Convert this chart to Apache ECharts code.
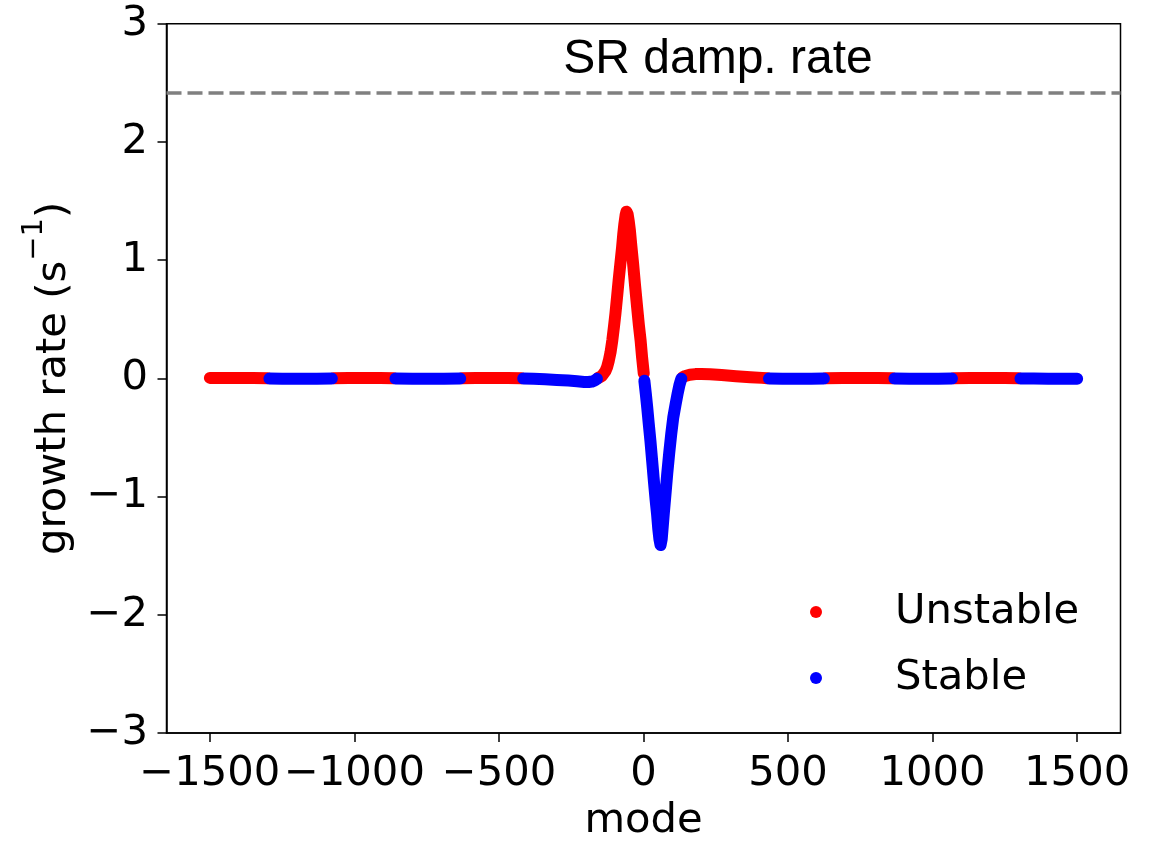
<!DOCTYPE html>
<html>
<head>
<meta charset="utf-8">
<script src="https://cdn.jsdelivr.net/npm/echarts@6/dist/echarts.min.js"></script>
<style>
  html, body { margin: 0; padding: 0; background: #fff; }
  #chart { width: 1157px; height: 841px; }
</style>
</head>
<body>
<div id="chart"></div>
<script>
// ---- data ----
const modes = [
  -1500, -1450, -1400, -1350, -1300, -1294, -1250, -1190, -1130, -1078,
  -1072, -1020, -960, -910, -864, -858, -800, -745, -690, -634,
  -628, -580, -520, -470, -422, -416, -380, -340, -300, -260,
  -230, -205, -190, -178, -168, -161,
  -156, -150, -144, -138, -132, -126, -120, -114, -108, -102,
  -97, -91, -86, -80, -74, -70, -66, -62, -59, -55,
  -51, -47, -42, -36, -29, -22, -16, -10, -5, 1,
  3, 8, 13, 18, 24, 30, 36, 42, 47, 51,
  55, 59, 63, 66, 70, 76, 82, 89, 96, 103,
  111, 118, 124, 128, 131,
  135, 145, 160, 180, 200, 230, 270, 320, 370, 410, 428,
  434, 480, 530, 580, 624,
  630, 690, 750, 810, 862,
  868, 920, 970, 1020, 1067,
  1073, 1130, 1190, 1250, 1298,
  1304, 1350, 1400, 1450, 1500
];
const growthRates = [
  0.004, 0.004, 0.003, 0.002, 0.001, -0.001, -0.003, -0.004, -0.003, -0.001,
  0.001, 0.003, 0.004, 0.003, 0.001, -0.001, -0.003, -0.004, -0.003, -0.001,
  0.001, 0.003, 0.004, 0.003, 0.001, -0.001, -0.004, -0.008, -0.013, -0.019,
  -0.025, -0.03, -0.031, -0.027, -0.018, -0.004,
  0.004, 0.01, 0.02, 0.035, 0.06, 0.094, 0.15, 0.22, 0.32, 0.44,
  0.55, 0.70, 0.83, 0.97, 1.11, 1.22, 1.31, 1.38, 1.41, 1.39,
  1.33, 1.25, 1.12, 0.97, 0.78, 0.60, 0.45, 0.32, 0.18, 0.04,
  -0.02, -0.13, -0.25, -0.38, -0.53, -0.70, -0.87, -1.03, -1.15, -1.27,
  -1.36, -1.41, -1.36, -1.27, -1.15, -0.98, -0.81, -0.63, -0.47, -0.33,
  -0.22, -0.13, -0.06, -0.025, -0.003,
  0.008, 0.02, 0.03, 0.036, 0.037, 0.035, 0.028, 0.018, 0.01, 0.004, 0.001,
  -0.001, -0.003, -0.004, -0.003, -0.001,
  0.001, 0.003, 0.004, 0.003, 0.001,
  -0.001, -0.003, -0.004, -0.003, -0.001,
  0.001, 0.003, 0.004, 0.003, 0.001,
  -0.001, -0.002, -0.003, -0.004, -0.004
];
const xTickValues = [-1500, -1000, -500, 0, 500, 1000, 1500];
const srDampRate = 2.42;
const legendNames = ['Unstable', 'Stable'];
const colors = { Unstable: '#ff0000', Stable: '#0000ff' };

// ---- build runs of equal sign ----
const runs = [];
for (let i = 0; i < modes.length; i++) {
  const name = growthRates[i] > 0 ? 'Unstable' : 'Stable';
  if (!runs.length || runs[runs.length - 1].name !== name) runs.push({ name, pts: [] });
  runs[runs.length - 1].pts.push([modes[i], growthRates[i]]);
}
const FONT = 'DejaVu Sans';
const mkSeries = (r, z) => ({
  type: 'line',
  name: r.name,
  data: r.pts,
  color: colors[r.name],
  itemStyle: { color: colors[r.name] },
  symbol: r.pts.length < 2 ? 'circle' : 'none',
  symbolSize: 12,
  showSymbol: r.pts.length < 2,
  lineStyle: { width: 12, color: colors[r.name], cap: 'round', join: 'round' },
  z: z,
  silent: true
});
const series = [];
runs.filter(r => r.name === 'Unstable').forEach(r => series.push(mkSeries(r, 2)));
runs.filter(r => r.name === 'Stable').forEach(r => series.push(mkSeries(r, 3)));
series[0].markLine = {
  silent: true,
  symbol: 'none',
  label: { show: false },
  lineStyle: { color: '#808080', width: 3.5, type: [15, 6] },
  data: [{ yAxis: srDampRate }]
};

const minus = v => String(v).replace('-', '\u2212');

const chart = echarts.init(document.getElementById('chart'), null, { renderer: 'canvas' });
chart.setOption({
  animation: false,
  backgroundColor: '#fff',
  grid: {
    left: 166.5, right: 36.5, top: 23.7, bottom: 108,
    outerBoundsMode: 'none',
    containLabel: false,
    show: true, borderColor: '#000', borderWidth: 1.5, backgroundColor: 'transparent'
  },
  xAxis: {
    type: 'value', min: -1650, max: 1650,
    name: 'mode', nameLocation: 'middle', nameGap: 67,
    nameTextStyle: { fontFamily: FONT, fontSize: 41.7, color: '#000' },
    axisLine: { show: true, onZero: false, lineStyle: { color: '#000', width: 1.5 } },
    axisTick: { show: true, inside: false, length: 9, customValues: xTickValues, lineStyle: { color: '#000', width: 1.5 } },
    axisLabel: { customValues: xTickValues, margin: 20, fontFamily: FONT, fontSize: 41.7, color: '#000', formatter: minus },
    splitLine: { show: false }
  },
  yAxis: {
    type: 'value', min: -3, max: 3, interval: 1,
    name: '{m|growth rate (s}{sup|\u22121}{m|)}', nameLocation: 'middle', nameGap: 89,
    nameTextStyle: {
      fontFamily: FONT, fontSize: 41.7, color: '#000',
      rich: {
        m: { fontFamily: FONT, fontSize: 41.7, color: '#000', lineHeight: 56, verticalAlign: 'bottom' },
        sup: { fontFamily: FONT, fontSize: 29, color: '#000', lineHeight: 56, verticalAlign: 'top' }
      }
    },
    axisLine: { show: true, onZero: false, lineStyle: { color: '#000', width: 1.5 } },
    axisTick: { show: true, inside: false, length: 9, lineStyle: { color: '#000', width: 1.5 } },
    axisLabel: { margin: 18.5, fontFamily: FONT, fontSize: 41.7, color: '#000', formatter: minus },
    splitLine: { show: false }
  },
  legend: {
    data: legendNames.map(n => ({ name: n, icon: 'circle' })),
    orient: 'vertical',
    left: 805, top: 582,
    itemWidth: 148, itemHeight: 12, itemGap: 16,
    selectedMode: false,
    textStyle: { fontFamily: FONT, fontSize: 41.7, color: '#000', lineHeight: 50 }
  },
  graphic: [{
    type: 'text',
    x: 718, y: 60,
    style: {
      text: 'SR damp. rate',
      x: 0, y: 0,
      font: '48px "Liberation Sans"',
      fill: '#000',
      textAlign: 'center',
      textVerticalAlign: 'middle'
    }
  }],
  series: series
});
</script>
</body>
</html>
